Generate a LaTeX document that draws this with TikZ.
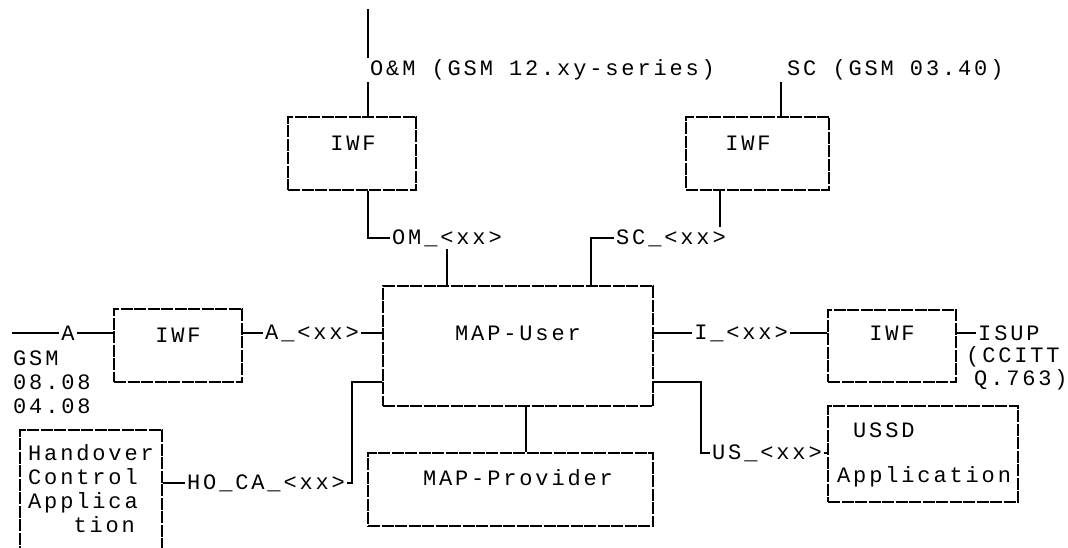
\documentclass[tikz,border=0pt]{standalone}
\usepackage{fontspec}
\usepackage{tikz}
\usetikzlibrary{positioning,calc}
\newfontfamily\asciifont{Liberation Mono}[LetterSpace=13]

\begin{document}
\begin{tikzpicture}[x=1pt,y=-1pt,every node/.style={font=\asciifont\fontsize{22pt}{24pt}\selectfont,inner sep=2pt}]
    \tikzstyle{blk}=[draw,line width=1.8pt,dash pattern=on 12pt off 1.5pt,inner sep=0pt]
    \tikzstyle{wire}=[line width=1.2pt]
    \useasboundingbox (0,0) rectangle (1068,548);
    % boxes
    \node[blk,minimum width=270pt,minimum height=120pt] (user) at (518,346) {};
    \node[blk,minimum width=285pt,minimum height=73pt] (prov) at (510.5,489.5) {};
    \node[blk,minimum width=128pt,minimum height=73pt] (iwfom) at (352,153.5) {};
    \node[blk,minimum width=143pt,minimum height=73pt] (iwfsc) at (757.5,153.5) {};
    \node[blk,minimum width=128pt,minimum height=73pt] (iwfa) at (178,345.5) {};
    \node[blk,minimum width=128pt,minimum height=72pt] (iwfisup) at (892,346) {};
    \node[blk,minimum width=190pt,minimum height=96pt] (ussd) at (923,454) {};
    \node[blk,minimum width=142pt,minimum height=140pt] (hoca) at (91,500) {};
    % box texts
    \node (usertxt) at (518,333) {MAP-User};
    \node (provtxt) at (518,478) {MAP-Provider};
    \node (iwfomtxt) at (353,143) {IWF};
    \node (iwfsctxt) at (748,143) {IWF};
    \node (iwfatxt) at (178,335) {IWF};
    \node (iwfisuptxt) at (892,333) {IWF};
    \node[anchor=west] (ussdtxt) at (851,430) {USSD};
    \node[anchor=west] (apptxt) at (835,477) {Application};
    \node[anchor=west,align=left] (hocatxt) at (26,489) {Handover\\Control\\Applica\\\hphantom{App}tion};
    % outer labels
    \coordinate (omtop) at (368,9);
    \node[anchor=west] (omlbl) at (368,70) {O\&M (GSM 12.xy-series)};
    \node[anchor=west] (sclbl) at (785,70) {SC (GSM 03.40)};
    \node[anchor=west] (omx) at (390,238) {OM\_<xx>};
    \node[anchor=west] (scx) at (614,238) {SC\_<xx>};
    \coordinate (aleft) at (12,333);
    \node (alink) at (68,333) {A};
    \node[anchor=west,align=left] (gsm) at (11,382) {GSM\\08.08\\04.08};
    \node (ax) at (312,333) {A\_<xx>};
    \node[anchor=west] (hox) at (185,483) {HO\_CA\_<xx>};
    \node (ix) at (741,333) {I\_<xx>};
    \node[anchor=west] (isup) at (976,333) {ISUP};
    \node[anchor=west] (ccitt) at (964,357) {(CCITT};
    \node[anchor=west] (q763) at (972,380) {Q.763)};
    \node[anchor=west] (usx) at (710,453) {US\_<xx>};
    \coordinate (scjoin) at (591,238);
    \coordinate (hojoin) at (352,382);
    \coordinate (usjoin) at (701,382);
    % connectors
    \draw[wire] (omtop) -- (omtop |- omlbl.north);
    \draw[wire] (omtop |- omlbl.south) -- (omtop |- iwfom.north);
    \draw[wire] ([xshift=-4pt]sclbl.south west) -- ([xshift=-4pt]sclbl.south west |- iwfsc.north);
    \draw[wire] (omtop |- iwfom.south) |- (omx.west);
    \draw[wire] (omx.south) -- (omx.south |- user.north);
    \draw[wire] (scjoin |- user.north) -- (scjoin) -- (scx.west);
    \draw[wire] ([xshift=-8pt]scx.north east) -- ([xshift=-8pt]scx.north east |- iwfsc.south);
    \draw[wire] (aleft) -- (alink) -- (alink -| iwfa.west);
    \draw[wire] (iwfa.east |- ax) -- (ax) -- (ax -| user.west);
    \draw[wire] (hoca.east |- hox) -- (hox.west);
    \draw[wire] (hox.east) -| (hojoin) -- (hojoin -| user.west);
    \draw[wire] (user.east |- ix) -- (ix) -- (ix -| iwfisup.west);
    \draw[wire] (iwfisup.east |- isup) -- (isup.west);
    \draw[wire] (user.east |- usjoin) -- (usjoin) |- (usx.west);
    \draw[wire] (usx.east) -- (usx.east -| ussd.west);
    \draw[wire] ([xshift=8pt]user.south) -- ([xshift=8pt]user.south |- prov.north);
\end{tikzpicture}
\end{document}
